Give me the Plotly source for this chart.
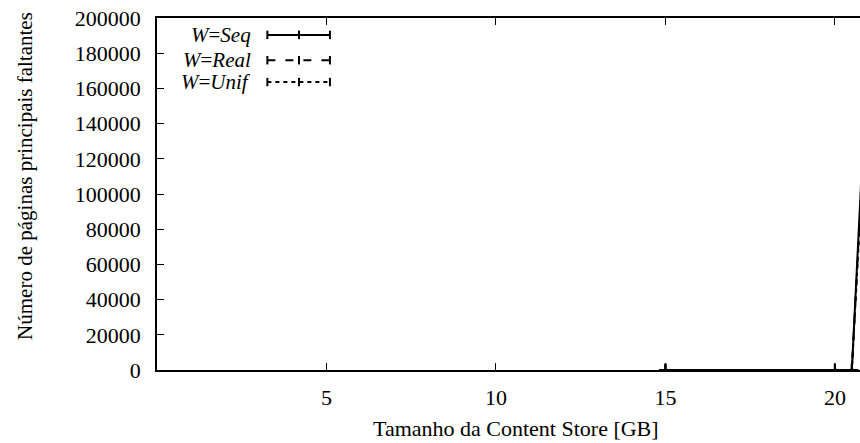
import plotly.graph_objects as go

# data (Content Store size in GB vs. missing main pages)
x_gb = [15, 20, 20.5, 21]
seq_vals = [0, 0, 0, 195000]
real_vals = [0, 0, 0, 185000]
unif_vals = [0, 0, 0, 180000]

series_names = ["<i>W</i>=<i>Seq</i>", "<i>W</i>=<i>Real</i>", "<i>W</i>=<i>Unif</i>"]
series_vals = [seq_vals, real_vals, unif_vals]
dashes = ["solid", "8px,10px", "4px,4px"]

x_ticks = [5, 10, 15, 20]
y_ticks = list(range(0, 200001, 20000))

x_title = "Tamanho da Content Store [GB]"
y_title = "Número de páginas principais faltantes"

FONT = "Liberation Serif, Times New Roman, serif"
FS = 22

fig = go.Figure()
for name, vals, d in zip(series_names, series_vals, dashes):
    fig.add_trace(go.Scatter(
        x=x_gb, y=vals, mode="lines+markers", name=name,
        line=dict(color="black", width=2, dash=d),
        marker=dict(symbol="cross-thin", size=9, line=dict(color="black", width=2)),
        showlegend=False,
    ))

# manual gnuplot-style legend (text right-aligned, sample to the right)
leg_y = [0.952, 0.880, 0.818]
for name, d, yy in zip(series_names, dashes, leg_y):
    fig.add_annotation(xref="paper", yref="paper", x=0.137, y=yy, text=name,
                       showarrow=False, xanchor="right", yanchor="middle",
                       font=dict(family=FONT, size=21, color="black"))
    fig.add_shape(type="line", xref="paper", yref="paper", x0=0.157, x1=0.246, y0=yy, y1=yy,
                  line=dict(color="black", width=2, dash=d))
    for xx in (0.157, 0.202, 0.246):
        fig.add_shape(type="line", xref="paper", yref="paper", x0=xx, x1=xx,
                      y0=yy - 0.012, y1=yy + 0.012, line=dict(color="black", width=2))

# axis titles
fig.add_annotation(xref="paper", yref="paper", x=0.511, y=-0.165, text=x_title,
                   showarrow=False, xanchor="center", yanchor="middle",
                   font=dict(family=FONT, size=FS, color="black"))
fig.add_annotation(xref="paper", yref="paper", x=-0.188, y=0.551, text=y_title,
                   showarrow=False, xanchor="center", yanchor="middle", textangle=-90,
                   font=dict(family=FONT, size=21, color="black"))

fig.update_layout(
    width=860, height=443,
    margin=dict(l=157, r=0, t=18, b=73),
    paper_bgcolor="white", plot_bgcolor="white",
    font=dict(family=FONT, size=FS, color="black"),
    showlegend=False,
)
fig.update_xaxes(
    range=[0, 20.74], tickvals=x_ticks, ticks="inside", ticklen=7, tickcolor="black",
    showline=True, linecolor="black", linewidth=1.5, mirror="ticks", showgrid=False, zeroline=False,
    tickfont=dict(size=FS), ticklabelstandoff=7, automargin=False, ticklabeloverflow="allow",
)
fig.update_yaxes(
    range=[0, 200000], tickvals=y_ticks, tickformat="d", ticks="inside", ticklen=7, tickcolor="black",
    showline=True, linecolor="black", linewidth=1.5, showgrid=False, zeroline=False,
    tickfont=dict(size=FS), ticklabelstandoff=10, automargin=False, ticklabeloverflow="allow",
)

# remove the browser's default 8px body margin so the 860x443 figure fills the window exactly
fig.write_html("out.html", config={"displayModeBar": False},
               post_script="document.body.style.margin='0';document.body.style.overflow='hidden';")
